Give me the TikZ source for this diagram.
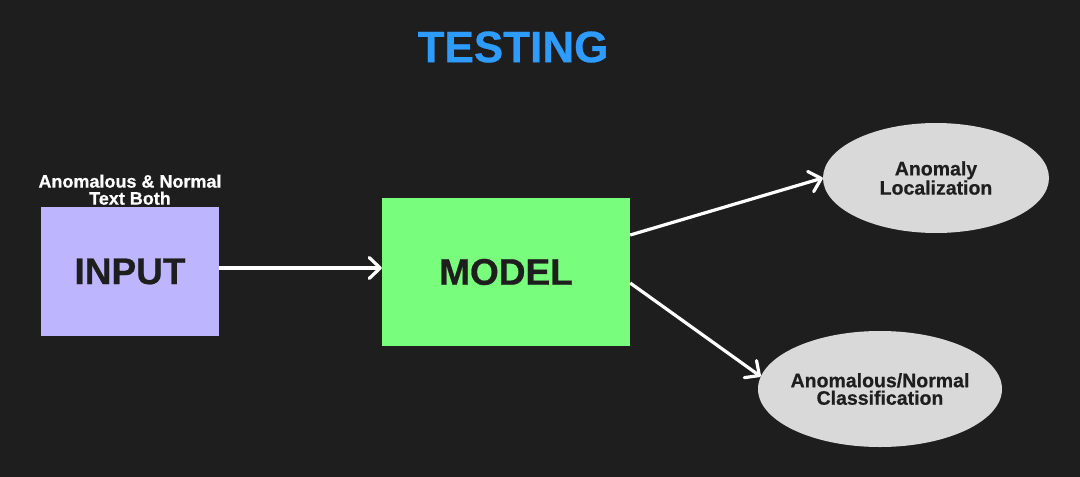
\documentclass[tikz,border=0pt]{standalone}
\usepackage{fontspec}
\setmainfont{Liberation Sans}[BoldFeatures={FakeBold=0.6}]
\usetikzlibrary{shapes.geometric,arrows.meta}
\definecolor{bg}{HTML}{1E1E1E}
\definecolor{titleblue}{HTML}{2E9BFF}
\definecolor{lav}{HTML}{BDB6FE}
\definecolor{grn}{HTML}{78FE7C}
\definecolor{ell}{HTML}{D9D9D9}
\definecolor{ink}{HTML}{1E1E1E}
\tikzset{
  boxnode/.style={rectangle,draw=none,inner sep=0pt,text=ink,font=\fontsize{37}{37}\selectfont\bfseries},
  ellnode/.style={ellipse,draw=none,fill=ell,inner xsep=-15pt,inner ysep=0pt,text=ink,align=center,font=\fontsize{19.5}{17.5}\selectfont\bfseries},
  conn/.style={draw=white,line width=3.2pt,-{Straight Barb[length=11pt,width=21pt,line width=3.2pt,round]}},
}
\begin{document}
\begin{tikzpicture}[x=1pt,y=-1pt]
\useasboundingbox (0,0) rectangle (1080,477);
\fill[bg] (0,0) rectangle (1080,477);
\node[text=titleblue,font=\fontsize{44}{44}\selectfont\bfseries] (title) at (513,47) {TESTING};
\node[boxnode,fill=lav,minimum width=178pt,minimum height=129pt] (input) at (130,271.5) {INPUT};
\node[text=white,align=center,font=\fontsize{18}{17}\selectfont\bfseries,anchor=south,inner sep=0pt] (lbl) at (130,205) {Anomalous \& Normal\\Text Both};
\node[boxnode,fill=grn,minimum width=248pt,minimum height=148pt] (model) at (506,272) {MODEL};
\node[ellnode,minimum width=226pt,minimum height=110pt] (e1) at (936,178) {Anomaly\\Localization};
\node[ellnode,minimum width=244pt,minimum height=116pt] (e2) at (880,389) {Anomalous/Normal\\Classification};
\draw[conn] ([yshift=3.5pt]input.east) -- ([yshift=4pt]model.west);
\draw[conn] ([yshift=37pt]model.east) -- (e1.west);
\draw[conn] ([yshift=-11pt]model.east) -- (e2.174);
\end{tikzpicture}
\end{document}
